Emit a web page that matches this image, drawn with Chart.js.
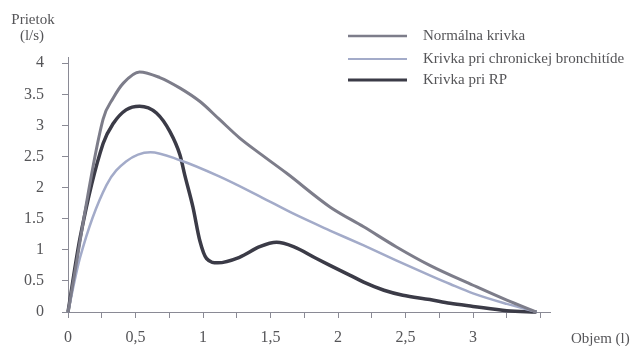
<!DOCTYPE html>
<html>
<head>
<meta charset="utf-8">
<script src="https://cdn.jsdelivr.net/npm/chart.js@4/dist/chart.umd.min.js"></script>
<style>
  html, body { margin: 0; padding: 0; background: #fff; }
  #wrap { width: 630px; height: 346px; position: relative; }
</style>
</head>
<body>
<div id="wrap"><canvas id="chart" width="630" height="346"></canvas></div>
<script>
// objem (l) / prietok (l/s)
const normalX = [0, 0.26, 0.335, 0.41, 0.53, 0.68, 0.83, 0.98, 1.12, 1.27, 1.42, 1.62, 1.94, 2.19, 2.43, 2.68, 3.0, 3.25, 3.47];
const normalY = [0, 3.1, 3.44, 3.68, 3.86, 3.77, 3.6, 3.38, 3.1, 2.8, 2.55, 2.23, 1.69, 1.37, 1.05, 0.75, 0.43, 0.19, 0];

const bronchX = [0, 0.09, 0.285, 0.43, 0.61, 0.83, 1.12, 1.42, 1.67, 1.94, 2.19, 2.43, 2.68, 2.83, 3.0, 3.25, 3.47];
const bronchY = [0, 0.88, 2.04, 2.42, 2.57, 2.44, 2.18, 1.86, 1.58, 1.31, 1.07, 0.83, 0.59, 0.45, 0.3, 0.13, 0];

const rpX = [0, 0.09, 0.26, 0.335, 0.43, 0.53, 0.655, 0.755, 0.83, 0.865, 0.925, 0.976, 1.026, 1.11, 1.27, 1.42, 1.545, 1.67, 1.84, 1.94, 2.09, 2.19, 2.34, 2.48, 2.68, 2.83, 3.0, 3.25, 3.47];
const rpY = [0, 1.2, 2.71, 3.03, 3.25, 3.31, 3.2, 2.9, 2.52, 2.2, 1.69, 1.15, 0.86, 0.79, 0.88, 1.05, 1.12, 1.05, 0.86, 0.75, 0.59, 0.48, 0.35, 0.27, 0.2, 0.14, 0.09, 0.02, 0];

const seriesNames = ['Normálna krivka', 'Krivka pri chronickej bronchitíde', 'Krivka pri RP'];
const xTicks = [0, 0.25, 0.5, 0.75, 1, 1.25, 1.5, 1.75, 2, 2.25, 2.5, 2.75, 3, 3.25, 3.5];
const xLabels = ['0', '', '0,5', '', '1', '', '1,5', '', '2', '', '2,5', '', '3', '', ''];
const yTicks = [0, 0.5, 1, 1.5, 2, 2.5, 3, 3.5, 4];
const yLabels = ['0', '0.5', '1', '1.5', '2', '2.5', '3', '3.5', '4'];

const colors = ['#7d7d8a', '#a3abc9', '#3b3b47'];
const widths = [3, 2.5, 3.5];
const textColor = '#555558';
const serif = '"Liberation Serif", "DejaVu Serif", serif';

const toPts = (xs, ys) => xs.map((x, i) => ({x: x, y: ys[i]}));

// legend + axis titles drawn on the canvas
const extras = {
  id: 'extras',
  afterDraw(chart) {
    const ctx = chart.ctx;
    ctx.save();
    ctx.fillStyle = textColor;
    ctx.font = '15px ' + serif;
    ctx.textAlign = 'center';
    ctx.textBaseline = 'middle';
    ctx.fillText('Prietok', 33, 20);
    ctx.fillText('(l/s)', 32, 36);
    ctx.textAlign = 'left';
    ctx.fillText('Objem (l)', 571, 339);

    const rows = [36, 59, 80];
    for (let i = 0; i < seriesNames.length; i++) {
      ctx.strokeStyle = colors[i];
      ctx.lineWidth = widths[i] - 0.5;
      ctx.beginPath();
      ctx.moveTo(348, rows[i]);
      ctx.lineTo(407, rows[i]);
      ctx.stroke();
      ctx.fillText(seriesNames[i], 423, rows[i]);
    }
    ctx.restore();
  }
};

new Chart(document.getElementById('chart'), {
  type: 'line',
  data: {
    datasets: [
      {label: seriesNames[0], data: toPts(normalX, normalY)},
      {label: seriesNames[1], data: toPts(bronchX, bronchY)},
      {label: seriesNames[2], data: toPts(rpX, rpY)}
    ].map((d, i) => Object.assign(d, {
      borderColor: colors[i],
      borderWidth: widths[i],
      pointRadius: 0,
      fill: false,
      cubicInterpolationMode: 'monotone',
      clip: false
    }))
  },
  options: {
    responsive: false,
    animation: false,
    layout: {padding: {left: 0, right: 80, top: 57, bottom: 0}},
    plugins: {legend: {display: false}, tooltip: {enabled: false}},
    scales: {
      x: {
        type: 'linear',
        min: 0,
        max: 3.57,
        afterBuildTicks: s => { s.ticks = xTicks.map(v => ({value: v})); },
        afterFit: s => { s.height = 34; },
        border: {color: '#8a8a95', width: 1},
        grid: {drawOnChartArea: false, drawTicks: true, tickLength: 6, color: '#8a8a95', offset: false},
        ticks: {
          color: textColor,
          font: {family: serif, size: 16},
          padding: 10,
          maxRotation: 0,
          autoSkip: false,
          callback: (v, i) => xLabels[i]
        }
      },
      y: {
        type: 'linear',
        min: 0,
        max: 4.1,
        afterBuildTicks: s => { s.ticks = yTicks.map(v => ({value: v})); },
        afterFit: s => { s.width = 68; },
        border: {color: '#8a8a95', width: 1},
        grid: {drawOnChartArea: false, drawTicks: true, tickLength: 6, color: '#8a8a95'},
        ticks: {
          color: textColor,
          font: {family: serif, size: 16},
          padding: 18,
          autoSkip: false,
          callback: (v, i) => yLabels[i]
        }
      }
    }
  },
  plugins: [extras]
});
</script>
</body>
</html>
